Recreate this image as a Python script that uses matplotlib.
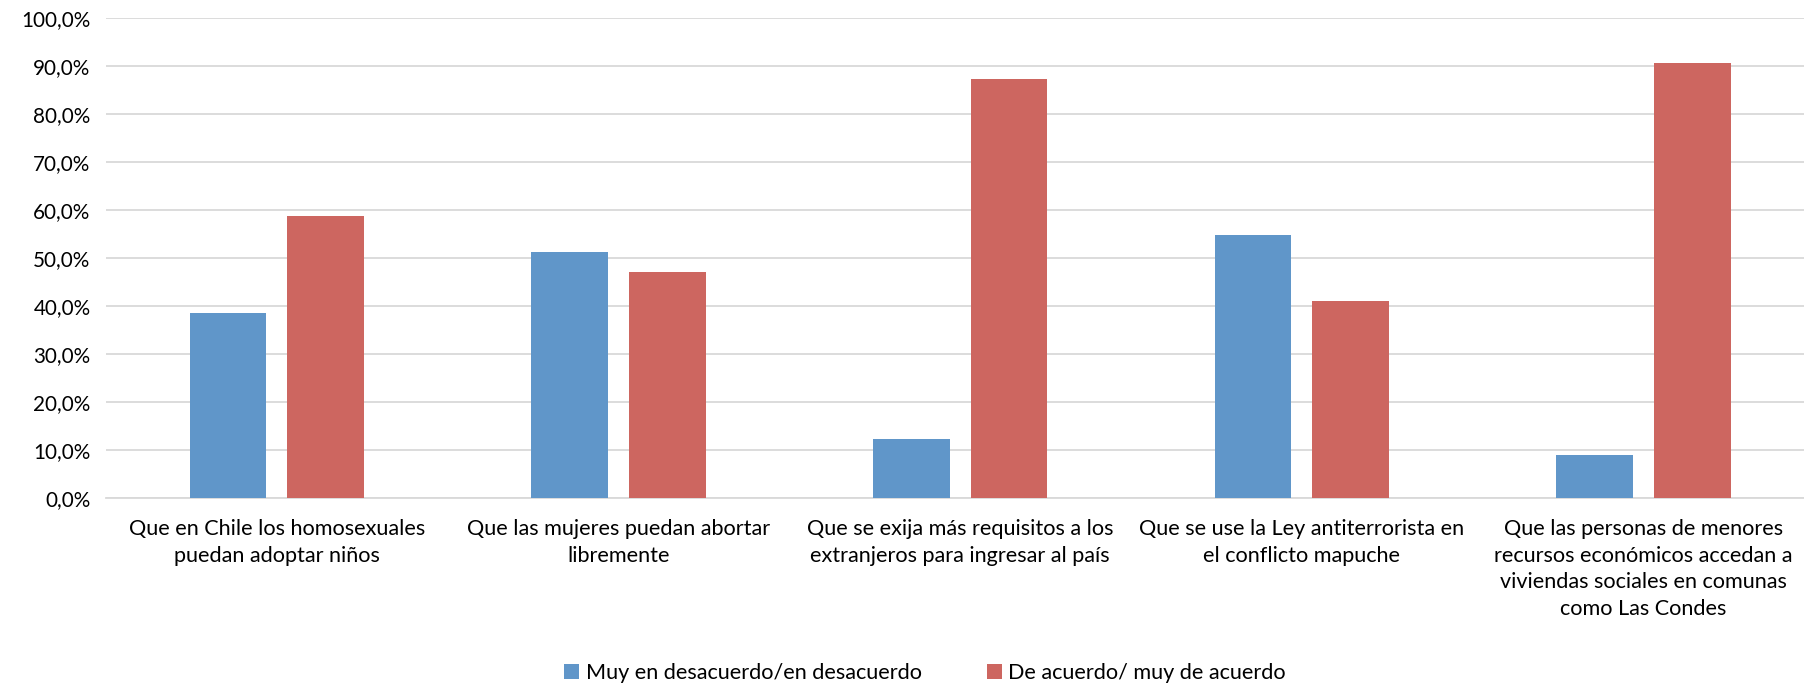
import matplotlib.pyplot as plt
import numpy as np
from matplotlib.ticker import FuncFormatter

# Survey results (percent)
categories = [
    "Que en Chile los homosexuales\npuedan adoptar niños",
    "Que las mujeres puedan abortar\nlibremente",
    "Que se exija más requisitos a los\nextranjeros para ingresar al país",
    "Que se use la Ley antiterrorista en\nel conflicto mapuche",
    "Que las personas de menores\nrecursos económicos accedan a\nviviendas sociales en comunas\ncomo Las Condes",
]
desacuerdo = [38.6, 51.3, 12.2, 54.9, 8.9]
de_acuerdo = [58.8, 47.2, 87.3, 41.0, 90.6]
series_names = ["Muy en desacuerdo/en desacuerdo", "De acuerdo/ muy de acuerdo"]
y_ticks = [0, 10, 20, 30, 40, 50, 60, 70, 80, 90, 100]

blue = "#6096c9"
red = "#cd6660"

plt.rcParams['font.family'] = ['Lato', 'DejaVu Sans']

fig = plt.figure(figsize=(18.04, 6.85), dpi=100)
W, H = 1804, 685
# axes placed in pixel terms: left 105.8, right 1814.5, top 18.3, bottom 498
ax = fig.add_axes([105.8 / W, 1 - 498 / H, (1814.5 - 105.8) / W, (498 - 18.3) / H])

x = np.arange(len(categories))
width = 0.224
offset = 0.143
ax.bar(x - offset, desacuerdo, width, color=blue, label=series_names[0], zorder=3)
ax.bar(x + offset, de_acuerdo, width, color=red, label=series_names[1], zorder=3)

ax.set_xlim(-0.5, len(categories) - 0.5)
ax.set_ylim(0, 100)
ax.set_yticks(y_ticks)
ax.yaxis.set_major_formatter(FuncFormatter(lambda v, p: f"{v:.1f}%".replace(".", ",")))
ax.grid(axis='y', color='#d9d9d9', linewidth=1.3, zorder=0)
ax.set_axisbelow(True)

for s in ['top', 'right', 'left']:
    ax.spines[s].set_visible(False)
ax.spines['bottom'].set_color('#d9d9d9')
ax.spines['bottom'].set_linewidth(1.3)

ax.tick_params(axis='both', length=0, colors='black')
ax.tick_params(axis='y', pad=11, labelsize=14.9)
ax.tick_params(axis='x', pad=15, labelsize=15.6)
ax.set_xticks(x)
ax.set_xticklabels(categories, linespacing=1.42)

ax.legend(loc='center', bbox_to_anchor=(925 / W, 1 - 673 / H), bbox_transform=fig.transFigure,
          ncol=2, frameon=False, fontsize=15.6, handlelength=0.7, handleheight=0.7,
          handletextpad=0.3, columnspacing=3.0)

fig.savefig("out.png", dpi=100)
